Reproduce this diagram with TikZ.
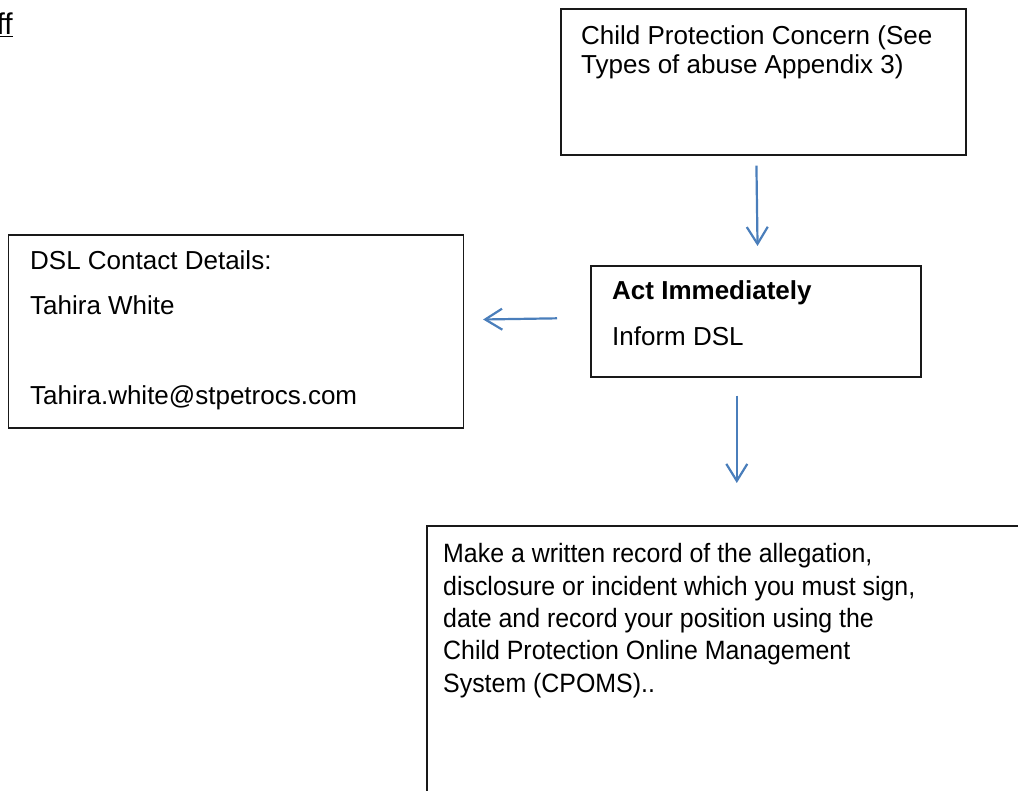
\documentclass[tikz,border=0pt]{standalone}
\usepackage{fontspec}
\setmainfont{Liberation Sans}
\newfontfamily\recordfont{Liberation Sans}[FakeStretch=0.94]
\usetikzlibrary{arrows.meta,positioning}
\definecolor{flowblue}{HTML}{4A7EBB}
\tikzset{
  card/.style={draw=black!90, line width=1.6pt, anchor=north west, inner sep=0pt},
  cardtext/.style={anchor=base west, inner sep=0pt, align=left},
  flow/.style={draw=flowblue, line width=2.2pt, -{Straight Barb[length=17pt,width=21pt]}},
}

\begin{document}
\begin{tikzpicture}[x=1pt,y=-1pt]
    \useasboundingbox (0,0) rectangle (1018,791);
    % Cut-off heading.
    \node[anchor=base east, inner sep=0pt, font=\fontsize{30}{30}\selectfont] (heading) at (13,35) {\underline{ff}};
    % Boxes.
    \node[card, minimum width=405pt, minimum height=146pt] (concern) at (560,8) {};
    \node[card, minimum width=455pt, minimum height=193pt] (dsl) at (7.5,234) {};
    \node[card, minimum width=330pt, minimum height=111pt] (act) at (590,265) {};
    \node[card, minimum width=620pt, minimum height=300pt] (record) at (426,525) {};
    % Texts (placed by the baseline of their last line).
    \node[cardtext, font=\fontsize{26}{29}\selectfont] (concerntext) at (581,74)
        {Child Protection Concern (See\\Types of abuse Appendix 3)};
    \node[cardtext, font=\fontsize{26}{45}\selectfont] (dsltext) at (30,405)
        {DSL Contact Details:\\Tahira White\\[45pt]Tahira.white@stpetrocs.com};
    \node[cardtext, font=\fontsize{26}{46}\selectfont] (acttext) at (612,346)
        {\textbf{Act Immediately}\\Inform DSL};
    \node[cardtext, font=\recordfont\fontsize{26.5}{32.4}\selectfont] (recordtext) at (443,692.3)
        {Make a written record of the allegation,\\disclosure or incident which you must sign,\\date and record your position using the\\Child Protection Online Management\\System (CPOMS)..};
    % Arrows.
    \draw[flow, shorten <=10pt, shorten >=19pt] ([xshift=-7pt]concern.south) -- ([xshift=2pt]act.north);
    \draw[flow, shorten <=33pt, shorten >=19pt] ([yshift=3.5pt]act.west) -- ([yshift=11.5pt]dsl.east);
    \draw[flow, shorten <=18pt, shorten >=42pt] ([xshift=-19pt]act.south) -- (record.north);
\end{tikzpicture}
\end{document}
